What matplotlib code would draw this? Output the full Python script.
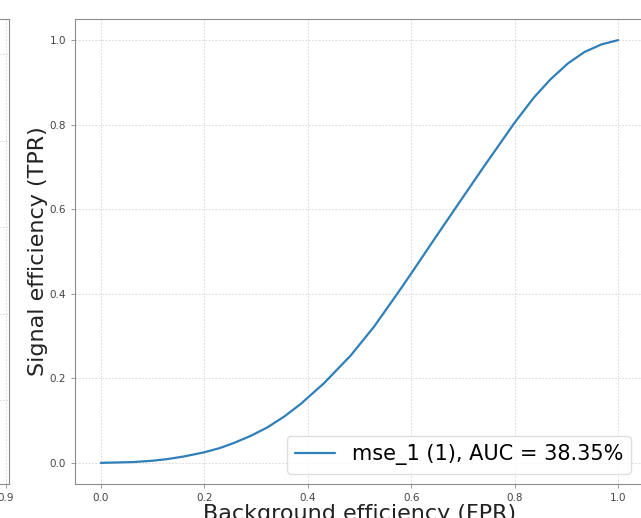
import matplotlib
matplotlib.use("Agg")
import matplotlib.pyplot as plt
from matplotlib.patches import FancyBboxPatch

# ROC curve of the mse_1 score (false positive rate vs true positive rate)
fpr = [0.000, 0.064, 0.100, 0.129, 0.160, 0.200, 0.230, 0.257, 0.290, 0.322,
       0.355, 0.386, 0.431, 0.483, 0.528, 0.573, 0.600, 0.644, 0.698, 0.740,
       0.800, 0.837, 0.869, 0.903, 0.935, 0.968, 1.000]
tpr = [0.000, 0.002, 0.005, 0.009, 0.015, 0.025, 0.035, 0.047, 0.064, 0.084,
       0.110, 0.139, 0.188, 0.254, 0.322, 0.400, 0.448, 0.528, 0.625, 0.700,
       0.805, 0.864, 0.907, 0.945, 0.972, 0.990, 1.000]
curve_label = "mse_1 (1), AUC = 38.35%"
tick_values = [0.0, 0.2, 0.4, 0.6, 0.8, 1.0]

W, H = 641, 518
fig = plt.figure(figsize=(W / 100, H / 100), dpi=100)

spine_col = "#8c8c8c"
tick_col = "#444444"
grid_kw = dict(color="#d4d4d4", linestyle=(0, (2, 2)), linewidth=0.6)


def px_axes(left, top, right, bottom):
    return fig.add_axes([left / W, 1 - bottom / H, (right - left) / W, (bottom - top) / H])


def style(ax):
    for s in ax.spines.values():
        s.set_color(spine_col)
    ax.tick_params(labelsize=7.5, colors=tick_col, length=3, width=0.6, color=spine_col)
    ax.grid(True, **grid_kw)
    ax.set_axisbelow(True)


# neighbouring panel on the left (only its right edge is in view)
axl = px_axes(-560, 19, 9, 484)
style(axl)
axl.set_xlim(-0.05, 0.905)
axl.set_ylim(0.006, 1.081)
axl.set_xticks([0.9])
axl.set_yticks([0.2, 0.4, 0.6, 0.8, 1.0])
axl.tick_params(axis="y", labelleft=False, left=False)
axl.add_patch(FancyBboxPatch((0.80, 0.855), 0.182, 0.118, boxstyle="round,pad=0,rounding_size=0.005",
                             transform=axl.transAxes, facecolor="white", edgecolor="#d8d8d8",
                             linewidth=0.8))

# main ROC panel
ax = px_axes(75, 19, 644, 484)
style(ax)
ax.plot(fpr, tpr, color="#2f7fb8", linewidth=1.6, label=curve_label,
        solid_joinstyle="round", solid_capstyle="round")
ax.set_xlim(-0.05, 1.05)
ax.set_ylim(-0.05, 1.05)
ax.set_xticks(tick_values)
ax.set_yticks(tick_values)
ax.set_xlabel("Background efficiency (FPR)", fontsize=16, color="#222222", labelpad=0.5)
ax.set_ylabel("Signal efficiency (TPR)", fontsize=16, color="#222222", labelpad=1)
leg = ax.legend(loc="lower right", fontsize=15, framealpha=0.8, handlelength=1.9,
                borderaxespad=0.5, bbox_to_anchor=(0.996, 0.0))
leg.get_frame().set_edgecolor("#d8d8d8")

fig.savefig("out.png", dpi=100)
